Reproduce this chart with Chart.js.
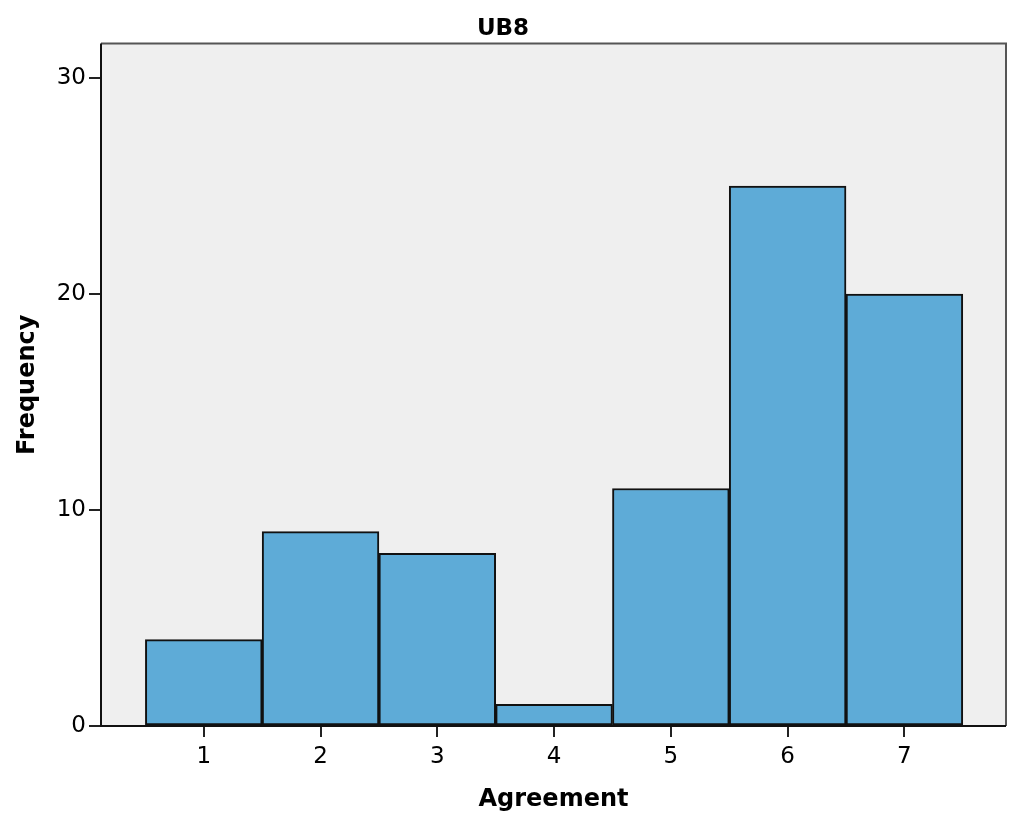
<!DOCTYPE html>
<html>
<head>
<meta charset="utf-8">
<script src="https://cdn.jsdelivr.net/npm/chart.js@4/dist/chart.umd.min.js"></script>
<style>
  html, body { margin: 0; padding: 0; background: #fff; }
  #wrap { width: 1024px; height: 836px; }
</style>
</head>
<body>
<div id="wrap"><canvas id="hist" width="1024" height="836"></canvas></div>
<script>
// data
const agreement = [1, 2, 3, 4, 5, 6, 7];
const frequency = [4, 9, 8, 1, 11, 25, 20];
const yTicks = [0, 10, 20, 30];

const FONT = "'DejaVu Sans', sans-serif";

// grey plot background + frame around chart area
const plotBox = {
  id: 'plotBox',
  beforeDraw(chart) {
    const { ctx, chartArea: a } = chart;
    ctx.save();
    ctx.fillStyle = '#efefef';
    ctx.fillRect(a.left, a.top, a.right - a.left, a.bottom - a.top);
    ctx.restore();
  },
  afterDraw(chart) {
    const { ctx, chartArea: a } = chart;
    ctx.save();
    ctx.strokeStyle = '#555';
    ctx.lineWidth = 2;
    ctx.beginPath();
    ctx.moveTo(a.left, a.top);
    ctx.lineTo(a.right, a.top);
    ctx.lineTo(a.right, a.bottom);
    ctx.stroke();
    ctx.strokeStyle = '#111';
    ctx.beginPath();
    ctx.moveTo(a.left, a.top);
    ctx.lineTo(a.left, a.bottom);
    ctx.lineTo(a.right, a.bottom);
    ctx.stroke();
    ctx.restore();
  }
};

const chart = new Chart(document.getElementById('hist'), {
  type: 'bar',
  data: {
    datasets: [{
      label: 'Frequency',
      data: agreement.map((a, i) => ({ x: a, y: frequency[i] })),
      backgroundColor: '#5eabd7',
      borderColor: '#111',
      borderWidth: 2,
      borderSkipped: false,
      barPercentage: 1,
      categoryPercentage: 1
    }]
  },
  options: {
    responsive: false,
    animation: false,
    layout: { padding: { left: 0, right: 18, top: 0, bottom: 0 } },
    plugins: {
      legend: { display: false },
      tooltip: { enabled: false },
      title: {
        display: true,
        text: 'UB8',
        color: '#000',
        font: { family: FONT, size: 23, weight: 'bold' },
        padding: { top: 15, bottom: 1 }
      }
    },
    scales: {
      x: {
        type: 'linear',
        min: 0.12,
        max: 7.87,
        offset: false,
        afterFit(s) { s.height = 110; },
        grid: { display: true, offset: false, drawOnChartArea: false, drawTicks: true, tickLength: 11, color: '#222', lineWidth: 2 },
        border: { display: false },
        ticks: {
          stepSize: 1,
          includeBounds: false,
          color: '#000',
          padding: 6,
          font: { family: FONT, size: 23 },
          callback: v => (agreement.includes(v) ? String(v) : '')
        },
        title: {
          display: true,
          text: 'Agreement',
          color: '#000',
          font: { family: FONT, size: 24, weight: 'bold' },
          padding: { top: 4, bottom: 22 }
        }
      },
      y: {
        min: 0,
        max: 31.6,
        afterFit(s) { s.width = 101; },
        grid: { display: true, drawOnChartArea: false, drawTicks: true, tickLength: 12, color: '#222', lineWidth: 2 },
        border: { display: false },
        afterBuildTicks(s) { s.ticks = yTicks.map(v => ({ value: v })); },
        ticks: {
          color: '#000',
          padding: 3,
          font: { family: FONT, size: 23 }
        },
        title: {
          display: true,
          text: 'Frequency',
          color: '#000',
          font: { family: FONT, size: 24, weight: 'bold' },
          padding: { bottom: 0, top: 13 }
        }
      }
    }
  },
  plugins: [plotBox]
});
</script>
</body>
</html>
